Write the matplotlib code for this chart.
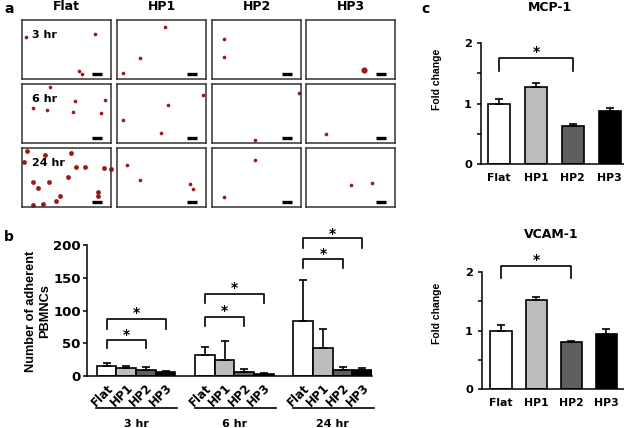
import matplotlib.pyplot as plt
import numpy as np
from matplotlib.transforms import blended_transform_factory

plt.rcParams['font.family'] = ['DejaVu Sans']
plt.rcParams['font.weight'] = 'bold'
plt.rcParams['axes.linewidth'] = 1.1

surfaces = ['Flat', 'HP1', 'HP2', 'HP3']
times = ['3 hr', '6 hr', '24 hr']
bar_colors = ['white', '#bdbdbd', '#5f5f5f', 'black']

# (a) cell spots in each micrograph, pixel offsets (x, y) inside a 89x59 frame
dots_3hr = [
    [(4, 17), (73, 14), (57, 51), (60, 54)],
    [(48, 7), (23, 38), (6, 53)],
    [(12, 19), (12, 37)],
    [(58, 50)],
]
dots_6hr = [
    [(28, 3), (11, 24), (25, 26), (53, 17), (83, 16), (51, 28), (79, 29)],
    [(86, 11), (51, 21), (6, 36), (44, 49)],
    [(87, 9), (43, 56)],
    [(20, 50)],
]
dots_24hr = [
    [(5, 3), (23, 7), (49, 5), (2, 14), (54, 19), (63, 19), (82, 20), (89, 21),
     (46, 29), (11, 34), (27, 34), (16, 40), (76, 44), (76, 48), (38, 48),
     (34, 53), (11, 57), (21, 56)],
    [(10, 17), (23, 32), (73, 36), (76, 41)],
    [(43, 12), (12, 49)],
    [(45, 37), (66, 35)],
]

# (b) number of adherent PBMNCs: mean and upper error
adh_3hr = [16, 11.5, 9.5, 6.5]
adh_3hr_err = [4, 4.5, 4.5, 1.5]
adh_6hr = [32.5, 25, 6, 3]
adh_6hr_err = [12, 29, 4, 1.5]
adh_24hr = [84.5, 42, 8.5, 8.5]
adh_24hr_err = [62, 30, 5.5, 4]

# (c) gene expression fold change
mcp1 = [1.0, 1.27, 0.635, 0.88]
mcp1_err = [0.08, 0.08, 0.02, 0.04]
vcam1 = [1.0, 1.52, 0.81, 0.94]
vcam1_err = [0.09, 0.05, 0.02, 0.09]

W, H = 624, 428
fig = plt.figure(figsize=(W / 100, H / 100), dpi=100)
VFONT = ['Liberation Sans', 'DejaVu Sans']


def px_axes(x0, y0, x1, y1):
    return fig.add_axes([x0 / W, 1 - y1 / H, (x1 - x0) / W, (y1 - y0) / H])


def fx(x):
    return x / W


def fy(y):
    return 1 - y / H


# ---------- panel a ----------
col_x = [22, 117, 212, 306]
row_y = [20, 84, 148]
all_dots = [dots_3hr, dots_6hr, dots_24hr]
for r, t in enumerate(times):
    for c, s in enumerate(surfaces):
        ax = px_axes(col_x[c], row_y[r], col_x[c] + 89, row_y[r] + 59)
        ax.set_xlim(0, 89)
        ax.set_ylim(59, 0)
        ax.set_xticks([])
        ax.set_yticks([])
        for sp in ax.spines.values():
            sp.set_color('#333333')
            sp.set_linewidth(1.1)
        pts = np.array(all_dots[r][c])
        size = 12 if r == 2 and c == 0 else 7
        if r == 0 and c == 3:
            size = 20
        ax.scatter(pts[:, 0], pts[:, 1], s=size, color='#981a1a', linewidths=0, clip_on=False)
        ax.plot([70, 80], [53.8, 53.8], color='black', lw=2.4, solid_capstyle='butt')
        if c == 0:
            ax.text(10.5, 14.5, t, fontsize=8, fontweight='bold', va='center', ha='left')

for c, s in enumerate(surfaces):
    fig.text(fx(col_x[c] + 44.5), fy(7), s, fontsize=9, fontweight='bold', ha='center', va='center')

fig.text(fx(4), fy(9), 'a', fontsize=10, fontweight='bold', ha='left', va='center')
fig.text(fx(4), fy(237), 'b', fontsize=10, fontweight='bold', ha='left', va='center')
fig.text(fx(421), fy(9), 'c', fontsize=10, fontweight='bold', ha='left', va='center')

# ---------- panel b ----------
axb = px_axes(87, 245, 372, 376)
adh_vals = [adh_3hr, adh_6hr, adh_24hr]
adh_errs = [adh_3hr_err, adh_6hr_err, adh_24hr_err]
centers = []
for g in range(3):
    xs = g * 5 + np.arange(4) + 0.5
    centers.extend(xs)
    axb.bar(xs, adh_vals[g], width=1, color=bar_colors, edgecolor='black', linewidth=1.2,
            yerr=[np.zeros(4), adh_errs[g]], capsize=3,
            error_kw=dict(elinewidth=1.2, capthick=1.2, ecolor='black'))
axb.set_xlim(-0.5, 14)
axb.set_ylim(0, 200)
axb.spines['top'].set_visible(False)
axb.spines['right'].set_visible(False)
axb.set_yticks([0, 50, 100, 150, 200])
axb.tick_params(axis='y', length=3, width=1.1, labelsize=9.5, pad=1.5)
axb.set_xticks(centers)
axb.set_xticklabels(surfaces * 3, rotation=45, ha='right', rotation_mode='anchor', fontsize=8.5)
axb.tick_params(axis='x', length=0, pad=4)
fig.text(fx(38), fy(311), 'Number of adherent\nPBMNCs', rotation=90, fontsize=9.2,
         family=VFONT, fontweight='bold', ha='center', va='center', linespacing=1.2)

tr = blended_transform_factory(axb.transData, axb.transAxes)
for g, t in enumerate(times):
    axb.plot([g * 5 - 0.02, g * 5 + 4.1], [-0.244, -0.244], color='black', lw=1.2,
             transform=tr, clip_on=False)
    axb.text(g * 5 + 2, -0.37, t, transform=tr, ha='center', va='center', fontsize=8)


def bracket(ax, x0, x1, y, drop, star_y, fs=10):
    ax.plot([x0, x0, x1, x1], [y - drop, y, y, y - drop], color='black', lw=1.2, clip_on=False)
    ax.text((x0 + x1) / 2, star_y, '*', ha='center', va='center', fontsize=fs, clip_on=False)


bracket(axb, 0.5, 2.5, 54.5, 12.5, 63)
bracket(axb, 0.5, 3.5, 87, 16, 96)
bracket(axb, 5.5, 7.5, 90, 13, 100)
bracket(axb, 5.5, 8.5, 125, 14, 134)
bracket(axb, 10.5, 12.5, 178.5, 14, 186)
bracket(axb, 10.5, 13.5, 211, 16, 217)


# ---------- panel c ----------
def fold_panel(box, vals, errs, xlim, title, title_y, ylab_y, br_y, br_drop, star_y):
    ax = px_axes(*box)
    xs = np.arange(4)
    ax.bar(xs, vals, width=0.6, color=bar_colors, edgecolor='black', linewidth=1.2,
           yerr=[np.zeros(4), errs], capsize=3,
           error_kw=dict(elinewidth=1.2, capthick=1.2, ecolor='black'))
    ax.set_xlim(*xlim)
    ax.set_ylim(0, 2)
    ax.spines['top'].set_visible(False)
    ax.spines['right'].set_visible(False)
    ax.set_yticks([0, 0.5, 1, 1.5, 2])
    ax.set_yticklabels(['0', '', '1', '', '2'])
    ax.tick_params(axis='y', length=3, width=1.1, labelsize=8.2, pad=3.5)
    ax.set_xticks(xs)
    ax.set_xticklabels(surfaces, fontsize=7.8)
    ax.tick_params(axis='x', length=0, pad=6.5)
    fig.text(fx(box[0] + 69), fy(title_y), title, fontsize=9, fontweight='bold',
             ha='center', va='center')
    fig.text(fx(437.5), fy(ylab_y), 'Fold change', rotation=90, fontsize=7.5,
             family=VFONT, fontweight='bold', ha='center', va='center')
    bracket(ax, 0, 2, br_y, br_drop, star_y)
    return ax


fold_panel((481, 43.3, 624, 164), mcp1, mcp1_err, (-0.49, 3.39), 'MCP-1', 7.5, 79,
           1.75, 0.21, 1.85)
fold_panel((482, 272, 624, 389.3), vcam1, vcam1_err, (-0.54, 3.5), 'VCAM-1', 235, 313,
           2.1, 0.21, 2.2)

fig.savefig('out.png', dpi=100)
